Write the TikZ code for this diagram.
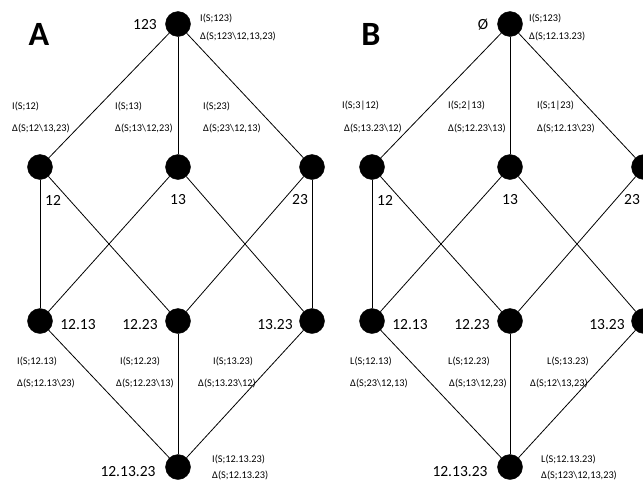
\documentclass[tikz,border=0pt]{standalone}
\usepackage{fontspec}
\setmainfont{Carlito}
\begin{document}
\begin{tikzpicture}[x=1pt,y=-1pt,
  dot/.style={circle,fill=black,draw=black,minimum size=25pt,inner sep=0pt},
  lab/.style={font=\fontsize{15.5}{17}\selectfont,inner sep=0pt},
  ann/.style={font=\fontsize{10.3}{12}\selectfont,inner sep=0pt,anchor=west},
  panel/.style={font=\fontsize{34}{36}\selectfont\bfseries,inner sep=0pt},
  edge/.style={draw=black,line width=0.8pt}]
\useasboundingbox (0,0) rectangle (643,485);
% ---------- Panel A ----------
\node[panel] (PA) at (39,34) {A};
\node[dot] (a123) at (178,24) {};
\node[dot] (a12) at (40,167) {};
\node[dot] (a13) at (178,167) {};
\node[dot] (a23) at (312,167) {};
\node[dot] (a1213) at (40,321) {};
\node[dot] (a1223) at (178,321) {};
\node[dot] (a1323) at (312,321) {};
\node[dot] (abot) at (178,467) {};
\foreach \s/\t in {a123/a12,a123/a13,a123/a23,a12/a1213,a12/a1223,a13/a1213,a13/a1323,a23/a1223,a23/a1323,a1213/abot,a1223/abot,a1323/abot}
  \draw[edge] (\s) -- (\t);
\node[lab] (la123) at (145,25) {123};
\node[lab] (la12) at (53,200) {12};
\node[lab] (la13) at (178,200) {13};
\node[lab] (la23) at (300,200) {23};
\node[lab] (la1213) at (78,325) {12.13};
\node[lab] (la1223) at (140,325) {12.23};
\node[lab] (la1323) at (275,325) {13.23};
\node[lab] (labot) at (128,472) {12.13.23};
\node[ann] (at1) at (200,18) {I(S;123)};
\node[ann] (at2) at (200,36) {Δ(S;123\textbackslash12,13,23)};
\node[ann] (ae1) at (12,106) {I(S;12)};
\node[ann] (ae2) at (12,128) {Δ(S;12\textbackslash13,23)};
\node[ann] (ae3) at (115,106) {I(S;13)};
\node[ann] (ae4) at (115,128) {Δ(S;13\textbackslash12,23)};
\node[ann] (ae5) at (203,106) {I(S;23)};
\node[ann] (ae6) at (203,128) {Δ(S;23\textbackslash12,13)};
\node[ann] (af1) at (17,361) {I(S;12.13)};
\node[ann] (af2) at (17,383) {Δ(S;12.13\textbackslash23)};
\node[ann] (af3) at (120,361) {I(S;12.23)};
\node[ann] (af4) at (116,383) {Δ(S;12.23\textbackslash13)};
\node[ann] (af5) at (213,361) {I(S;13.23)};
\node[ann] (af6) at (198,383) {Δ(S;13.23\textbackslash12)};
\node[ann] (ab1) at (212,459) {I(S;12.13.23)};
\node[ann] (ab2) at (212,475) {Δ(S;12.13.23)};
% ---------- Panel B ----------
\node[panel] (PB) at (371,34) {B};
\node[dot] (b123) at (510,24) {};
\node[dot] (b12) at (372,167) {};
\node[dot] (b13) at (510,167) {};
\node[dot] (b23) at (644,167) {};
\node[dot] (b1213) at (372,321) {};
\node[dot] (b1223) at (510,321) {};
\node[dot] (b1323) at (644,321) {};
\node[dot] (bbot) at (510,467) {};
\foreach \s/\t in {b123/b12,b123/b13,b123/b23,b12/b1213,b12/b1223,b13/b1213,b13/b1323,b23/b1223,b23/b1323,b1213/bbot,b1223/bbot,b1323/bbot}
  \draw[edge] (\s) -- (\t);
\node[lab] (lb123) at (483,25) {Ø};
\node[lab] (lb12) at (385,200) {12};
\node[lab] (lb13) at (510,200) {13};
\node[lab] (lb23) at (632,200) {23};
\node[lab] (lb1213) at (410,325) {12.13};
\node[lab] (lb1223) at (472,325) {12.23};
\node[lab] (lb1323) at (607,325) {13.23};
\node[lab] (lbbot) at (460,472) {12.13.23};
\node[ann] (bt1) at (529,18) {I(S;123)};
\node[ann] (bt2) at (529,36) {Δ(S;12.13.23)};
\node[ann] (be1) at (342,106) {I(S;3|12)};
\node[ann] (be2) at (344,128) {Δ(S;13.23\textbackslash12)};
\node[ann] (be3) at (448,106) {I(S;2|13)};
\node[ann] (be4) at (448,128) {Δ(S;12.23\textbackslash13)};
\node[ann] (be5) at (537,106) {I(S;1|23)};
\node[ann] (be6) at (537,128) {Δ(S;12.13\textbackslash23)};
\node[ann] (bf1) at (350,361) {L(S;12.13)};
\node[ann] (bf2) at (350,383) {Δ(S;23\textbackslash12,13)};
\node[ann] (bf3) at (448,361) {L(S;12.23)};
\node[ann] (bf4) at (449,383) {Δ(S;13\textbackslash12,23)};
\node[ann] (bf5) at (547,361) {L(S;13.23)};
\node[ann] (bf6) at (530,383) {Δ(S;12\textbackslash13,23)};
\node[ann] (bb1) at (541,459) {L(S;12.13.23)};
\node[ann] (bb2) at (541,475) {Δ(S;123\textbackslash12,13,23)};
\end{tikzpicture}
\end{document}
